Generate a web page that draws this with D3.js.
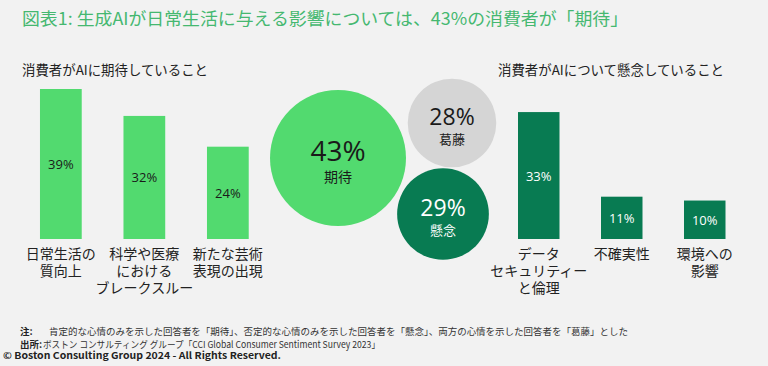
<!DOCTYPE html>
<html><head><meta charset="utf-8">
<script src="https://cdn.jsdelivr.net/npm/d3@7"></script>
<style>
html,body{margin:0;padding:0;background:#f2f2f2;}
svg{display:block;font-family:"Noto Sans CJK JP","Noto Sans",sans-serif;}
</style></head>
<body>
<svg id="c" width="768" height="366"></svg>
<script>
const title = "図表1: 生成AIが日常生活に与える影響については、43%の消費者が「期待」";
const leftSubtitle = "消費者がAIに期待していること";
const rightSubtitle = "消費者がAIについて懸念していること";
const expectCats = [["日常生活の","質向上"],["科学や医療","における","ブレークスルー"],["新たな芸術","表現の出現"]];
const expectVals = [39, 32, 24];
const concernCats = [["データ","セキュリティー","と倫理"],["不確実性"],["環境への","影響"]];
const concernVals = [33, 11, 10];
const sentimentLabels = ["期待", "葛藤", "懸念"];
const sentimentVals = [43, 28, 29];
const notes = [
  {bold:"注:", text:"肯定的な心情のみを示した回答者を「期待」、否定的な心情のみを示した回答者を「懸念」、両方の心情を示した回答者を「葛藤」とした"},
  {bold:"出所:", text:"ボストン コンサルティング グループ「CCI Global Consumer Sentiment Survey 2023」"}
];
const copyright = "© Boston Consulting Group 2024 - All Rights Reserved.";

const svg = d3.select("#c");
const LIGHT = "#52da6f", DARK = "#087b52", GREY = "#d5d5d5";
const NUMFONT = "'Open Sans','Noto Sans',sans-serif";

svg.append("text").attr("x", 22).attr("y", 25).attr("fill", "#45b870")
  .attr("font-size", 17).attr("textLength", 606).attr("lengthAdjust","spacingAndGlyphs").text(title);

svg.append("text").attr("x", 22).attr("y", 75).attr("fill", "#222").attr("font-size", 13.5)
  .attr("textLength", 186).attr("lengthAdjust","spacingAndGlyphs").text(leftSubtitle);
svg.append("text").attr("x", 498).attr("y", 75).attr("fill", "#222").attr("font-size", 13.5)
  .attr("textLength", 226).attr("lengthAdjust","spacingAndGlyphs").text(rightSubtitle);

const y = d3.scaleLinear().domain([0, 39]).range([239, 89]);

function barGroup(cats, vals, range, color, labelColor) {
  const x = d3.scaleBand().domain(d3.range(vals.length)).range(range).paddingInner(0.5).paddingOuter(0.25);
  const g = svg.append("g");
  g.selectAll("rect").data(vals).join("rect")
    .attr("x", (d,i) => x(i)).attr("width", x.bandwidth())
    .attr("y", d => y(d)).attr("height", d => y(0) - y(d)).attr("fill", color);
  g.selectAll("text.v").data(vals).join("text").attr("class","v")
    .attr("x", (d,i) => x(i) + x.bandwidth()/2).attr("y", d => (y(d)+y(0))/2 + 5)
    .attr("text-anchor","middle").attr("font-size", 13).attr("font-family", NUMFONT).attr("fill", labelColor)
    .text(d => d + "%");
  cats.forEach((lines, i) => {
    const t = g.append("text").attr("text-anchor","middle").attr("font-size", 14).attr("fill","#222");
    lines.forEach((ln, j) => {
      t.append("tspan").attr("x", x(i) + x.bandwidth()/2).attr("y", 259 + j*17).text(ln);
    });
  });
}
barGroup(expectCats, expectVals, [19.1, 269.6], LIGHT, "#1a1a1a");
barGroup(concernCats, concernVals, [497.25, 746.25], DARK, "#ffffff");

const r = d3.scaleLinear().domain([0, 43]).range([0, 68]);
const centers = [[338, 158], [452, 123], [443, 214]];
const fills = [LIGHT, GREY, DARK];
const tcol = ["#1a1a1a", "#1a1a1a", "#ffffff"];
const bubbles = svg.append("g").selectAll("g").data(sentimentVals).join("g")
  .attr("transform", (d,i) => `translate(${centers[i][0]},${centers[i][1]})`);
bubbles.append("circle").attr("r", d => r(d)).attr("fill", (d,i) => fills[i]);
bubbles.append("text").attr("text-anchor","middle")
  .attr("y", (d,i) => i === 0 ? 3 : 2)
  .attr("font-size", (d,i) => i === 0 ? 28 : 23).attr("font-family", NUMFONT)
  .attr("fill", (d,i) => tcol[i]).text(d => d + "%");
bubbles.append("text").attr("text-anchor","middle")
  .attr("y", (d,i) => i === 0 ? 24 : 20.5)
  .attr("font-size", (d,i) => i === 0 ? 14 : 13)
  .attr("fill", (d,i) => tcol[i]).text((d,i) => sentimentLabels[i]);

const nx = [49, 43], nlen = [579, 337];
notes.forEach((n, i) => {
  svg.append("text").attr("x", 20).attr("y", 335 + i*13).attr("font-size", 9.5)
    .attr("font-weight", "bold").attr("fill", "#222").text(n.bold);
  svg.append("text").attr("x", nx[i]).attr("y", 335 + i*13).attr("font-size", 9.5)
    .attr("fill", "#333").attr("textLength", nlen[i]).attr("lengthAdjust","spacingAndGlyphs").text(n.text);
});
svg.append("text").attr("x", 3).attr("y", 359).attr("font-size", 9.5).attr("font-weight","bold")
  .attr("fill", "#222").attr("textLength", 278).attr("lengthAdjust","spacingAndGlyphs").text(copyright);
</script>
</body></html>
